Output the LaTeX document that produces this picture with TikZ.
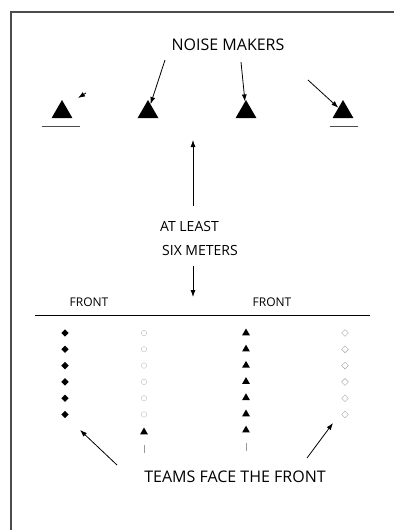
\documentclass[tikz,border=0pt]{standalone}
\usepackage{fontspec}
\setmainfont{Open Sans}
\usetikzlibrary{arrows.meta,shapes.geometric}
\begin{document}
\begin{tikzpicture}[x=1pt, y=-1pt,
    maker/.style={regular polygon, regular polygon sides=3, fill=black, inner sep=0pt, minimum size=24pt},
    tri/.style={regular polygon, regular polygon sides=3, fill=black, inner sep=0pt, minimum size=9pt},
    dot/.style={diamond, fill=black, inner sep=0pt, minimum size=7.5pt},
    faint/.style={circle, draw=black!25, inner sep=0pt, minimum size=5.5pt},
    ghost/.style={diamond, draw=black!35, inner sep=0pt, minimum size=7pt},
    lbl/.style={font=\fontsize{16}{18}\selectfont, inner sep=0pt},
    small/.style={font=\fontsize{12}{14}\selectfont, inner sep=0pt},
    arrow/.style={-{Latex[length=7pt,width=5pt]}, thick}
]
\useasboundingbox (0,0) rectangle (394,530);
% frame
\draw[line width=1.4pt, black!70] (11,530) -- (11,12) -- (394,12);
% noise makers
\node[lbl] (noise) at (228,45) {NOISE MAKERS};
\node[maker] (m1) at (62,112) {};
\node[maker] (m2) at (148,112) {};
\node[maker] (m3) at (246,112) {};
\node[maker] (m4) at (343,112) {};
\draw[thick, black!70] (42,126) -- (80,126);
\draw[thick, black!70] (330,126) -- (358,126);
\coordinate (a1) at (86,93);
\coordinate (a1e) at (78,98);
\coordinate (a2) at (165,60);
\coordinate (a3) at (241,62);
\coordinate (a4) at (308,80);
\draw[arrow] (a1) -- (a1e);
\draw[arrow] (a2) -- (m2);
\draw[arrow] (a3) -- (m3);
\draw[arrow] (a4) -- (m4);
% distance
\node[lbl, font=\fontsize{14}{16}\selectfont, anchor=west] (least) at (160,226) {AT LEAST};
\node[lbl, font=\fontsize{14}{16}\selectfont, anchor=west] (six) at (162,250) {SIX METERS};
\coordinate (up) at (193,140);
\coordinate (down) at (193,297);
\draw[arrow] (193,206) -- (up);
\draw[arrow] (193,266) -- (down);
% front line
\node[small] (f1) at (89,302) {FRONT};
\node[small] (f2) at (272,302) {FRONT};
\draw[semithick] (35,315) -- (370,315);
% teams
\foreach \i in {0,...,5} {
  \node[dot] (d\i) at (65,333+16.3*\i) {};
  \node[faint] (c\i) at (144,333+16.3*\i) {};
  \node[ghost] (g\i) at (345,333+16.3*\i) {};
}
\foreach \i in {0,...,6} {
  \node[tri] (t\i) at (246,333+16.2*\i) {};
}
\node[tri] (lead) at (144,432) {};
\draw[black!40] (144,445) -- (144,453);
\draw[black!40] (246,443) -- (246,451);
\node[lbl] (teams) at (235,477) {TEAMS FACE THE FRONT};
\coordinate (b1) at (117,465);
\coordinate (b2) at (307,458);
\draw[arrow] (b1) -- (80,430);
\draw[arrow] (b2) -- (333,423);
\end{tikzpicture}
\end{document}
